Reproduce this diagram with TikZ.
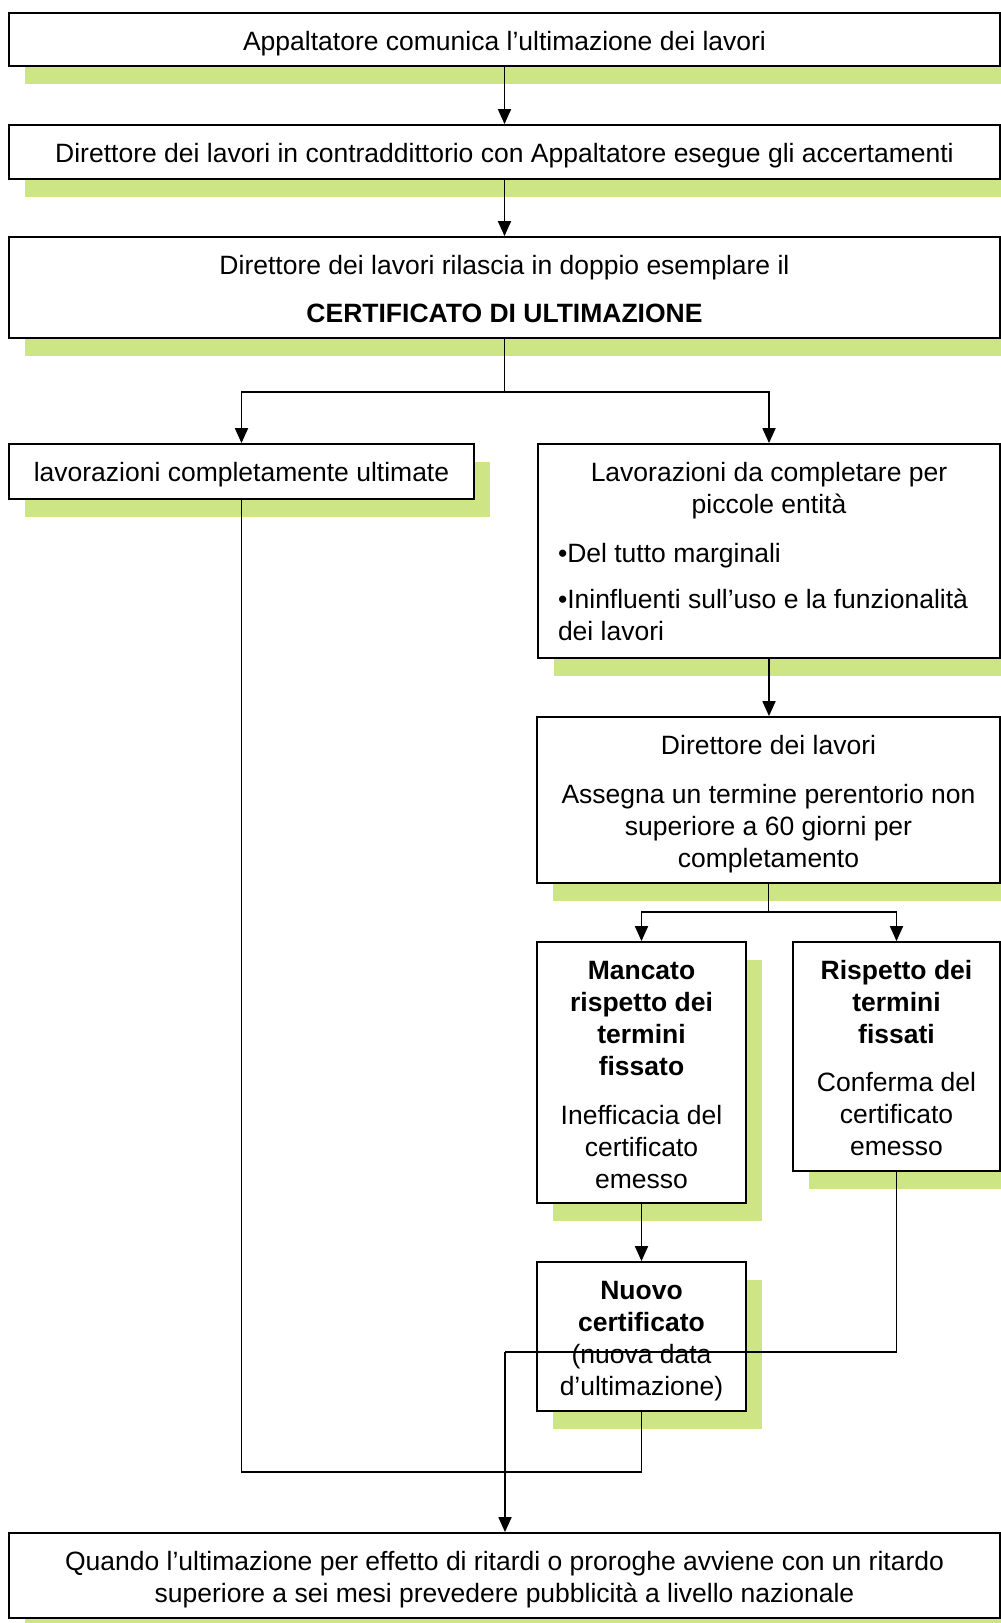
\documentclass[tikz,border=0pt]{standalone}
\usepackage{fontspec}
\setmainfont{Liberation Sans}
\usetikzlibrary{arrows.meta,positioning,shadows}
\definecolor{ombra}{RGB}{206,229,134}
\newcommand{\testo}[3]{\parbox[c][#2][t]{#1}{\centering\rule{0pt}{37pt}\ignorespaces#3}}

\begin{document}
\begin{tikzpicture}[x=1pt, y=-1pt, line width=1.8pt, >={Triangle[width=13pt,length=15pt]},
main box/.style={rectangle,draw,fill=white,inner xsep=6pt,inner ysep=0pt,font=\fontsize{26.5}{32}\selectfont,
general shadow={fill=ombra,shadow xshift=16pt,shadow yshift=-18pt}}]
\path[use as bounding box, fill=white] (0,0) rectangle (1001,1623);
\begin{scope}
\node[main box] (comunica) at (504.5,39.5) {\testo{979pt}{53pt}{Appaltatore comunica l’ultimazione dei lavori}};
\node[main box] (accertamenti) at (504.5,152) {\testo{979pt}{54pt}{Direttore dei lavori in contraddittorio con Appaltatore esegue gli accertamenti}};
\node[main box] (certificato) at (504.5,287.5) {\testo{979pt}{101pt}{Direttore dei lavori rilascia in doppio esemplare il\\[16pt]\textbf{CERTIFICATO DI ULTIMAZIONE}}};
\node[main box] (ultimate) at (241.5,471.5) {\testo{453pt}{55pt}{lavorazioni completamente ultimate}};
\node[main box] (dacompletare) at (769,551) {\testo{450pt}{214pt}{Lavorazioni da completare per\\piccole entità\par\vspace{17pt}\raggedright\leftskip=14pt •Del tutto marginali\par\vspace{14pt}•Ininfluenti sull’uso e la funzionalità\\dei lavori}};
\node[main box] (termine) at (768.5,800) {\testo{451pt}{166pt}{Direttore dei lavori\\[17pt]Assegna un termine perentorio non\\superiore a 60 giorni per\\completamento}};
\node[main box] (mancato) at (641.5,1072.5) {\testo{197pt}{261pt}{\bfseries Mancato\\rispetto dei\\termini\\fissato\\[17pt]\mdseries Inefficacia del\\certificato\\emesso}};
\node[main box] (rispetto) at (896.5,1056.5) {\testo{195pt}{229pt}{\bfseries Rispetto dei\\termini\\fissati\\[16pt]\mdseries Conferma del\\certificato\\emesso}};
\node[main box] (nuovo) at (641.5,1336.5) {\testo{197pt}{149pt}{\bfseries Nuovo\\certificato\\\mdseries(nuova data\\d’ultimazione)}};
\node[main box] (pubblicita) at (504.5,1575.5) {\testo{979pt}{85pt}{Quando l’ultimazione per effetto di ritardi o proroghe avviene con un ritardo\\superiore a sei mesi prevedere pubblicità a livello nazionale}};
\end{scope}
\begin{scope}
\coordinate (bivio1) at (504.5,392);
\coordinate (bivio2) at (768.5,912);
\coordinate (giro1) at (641.5,1472);
\coordinate (giro2) at (505,1352);
\draw[->] (comunica) -- (accertamenti);
\draw[->] (accertamenti) -- (certificato);
\draw (certificato) -- (bivio1);
\draw[->] (bivio1) -| (ultimate);
\draw[->] (bivio1) -| (dacompletare);
\draw[->] (dacompletare) -- (dacompletare |- termine.north);
\draw (termine) -- (bivio2);
\draw[->] (bivio2) -| (mancato);
\draw[->] (bivio2) -| (rispetto);
\draw[->] (mancato) -- (nuovo);
\draw (ultimate) |- (giro1) -- (nuovo);
\draw (rispetto) |- (giro2);
\draw[->] (giro2) -- (giro2 |- pubblicita.north);
\end{scope}
\end{tikzpicture}
\end{document}
